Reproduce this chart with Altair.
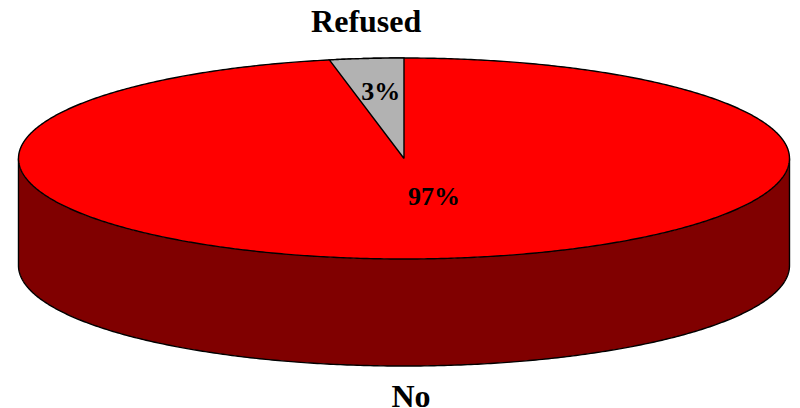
import numpy as np
import pandas as pd
import altair as alt

# Chart values
categories = ["No", "Refused"]
shares = [96.9, 3.1]
label_text = ["97%", "3%", "No", "Refused"]
label_u = [0.078, -0.06, 0.018, -0.098]
label_v = [-0.385, 0.66, -2.37, 1.355]
label_size = [26, 26, 32, 32]

DEPTH = 1.065  # height of the pie's wall, in units of the ellipse's minor radius
X_DOMAIN = [-1.0272, 1.0065]
Y_DOMAIN = [-2.4826, 1.4975]
x_scale = alt.Scale(domain=X_DOMAIN, nice=False, zero=False)
y_scale = alt.Scale(domain=Y_DOMAIN, nice=False, zero=False)
X = alt.X("u:Q", scale=x_scale, axis=None)
Y = alt.Y("v:Q", scale=y_scale, axis=None)
Y2 = alt.Y2("v2:Q")

refused_angle = 2 * np.pi * shares[1] / sum(shares)

t = np.linspace(0, np.pi, 361)
u_arc = -np.cos(t)
v_arc = np.sin(t)

top = pd.DataFrame({"u": u_arc, "v": v_arc, "v2": -v_arc})
wall = pd.DataFrame({"u": u_arc, "v": -v_arc, "v2": -v_arc - DEPTH})

# Refused wedge: fill between rim and the radius running to the centre
a = np.linspace(refused_angle, 0, 60)
wedge_fill = pd.DataFrame({
    "u": -np.sin(a),
    "v": np.cos(a),
    "v2": np.cos(refused_angle) / np.sin(refused_angle) * np.sin(a),
})

# Outlines
t2 = np.linspace(0, 2 * np.pi, 721)
rim = pd.DataFrame({"u": np.cos(t2), "v": np.sin(t2)})
rim["o"] = range(len(rim))
wall_line_u = np.concatenate([[-1], u_arc, [1]])
wall_line_v = np.concatenate([[0], -v_arc - DEPTH, [0]])
wall_line = pd.DataFrame({"u": wall_line_u, "v": wall_line_v})
wall_line["o"] = range(len(wall_line))
wedge_u = np.concatenate([[0], -np.sin(a)[::-1], [0]])
wedge_v = np.concatenate([[0], np.cos(a)[::-1], [0]])
wedge_line = pd.DataFrame({"u": wedge_u, "v": wedge_v})
wedge_line["o"] = range(len(wedge_line))

labels = pd.DataFrame({"t": label_text, "u": label_u, "v": label_v, "s": label_size})

def outline(df):
    return alt.Chart(df).mark_line(color="black", strokeWidth=1.4, interpolate="linear").encode(
        x=X, y=Y, order="o:Q"
    )

wall_area = alt.Chart(wall).mark_area(color="#800000", interpolate="linear").encode(x=X, y=Y, y2=Y2)
top_area = alt.Chart(top).mark_area(color="#ff0000", interpolate="linear").encode(x=X, y=Y, y2=Y2)
wedge_area = alt.Chart(wedge_fill).mark_area(color="#b2b2b2", interpolate="linear").encode(x=X, y=Y, y2=Y2)

text = alt.Chart(labels).mark_text(
    font="Liberation Serif", fontWeight="bold", color="black", align="center", baseline="middle"
).encode(
    x=X, y=Y, text="t:N",
    size=alt.Size("s:Q", scale=None, legend=None),
)

chart = alt.layer(
    wall_area, outline(wall_line), top_area, outline(rim), wedge_area, outline(wedge_line), text
).properties(
    width=784, height=400, padding=0, autosize=alt.AutoSizeParams(type="none")
).configure_view(stroke=None)

chart.save("out.html", embed_options={"renderer": "svg", "actions": False})
